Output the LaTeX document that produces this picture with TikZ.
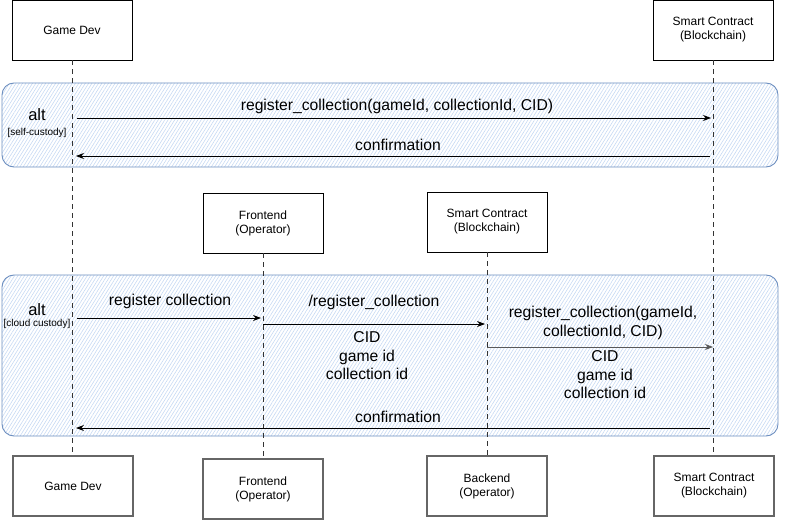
\documentclass[tikz,border=0pt]{standalone}
\usepackage{fontspec}
\setmainfont{Liberation Sans}
\usetikzlibrary{patterns.meta,arrows.meta}
\definecolor{frameblue}{HTML}{6C8EBF}
\definecolor{hatchblue}{HTML}{C6D9F3}
\begin{document}
\begin{tikzpicture}[x=1pt,y=-1pt,
  actor/.style={draw=black,line width=0.6pt,minimum width=120pt,minimum height=60pt,align=center,font=\fontsize{12}{14}\selectfont,inner sep=0pt},
  actorb/.style={actor,draw=black!60,line width=1.1pt},
  altframe/.style={draw=frameblue,line width=0.9pt,rounded corners=12pt,pattern={Lines[angle=58,distance=2.8pt,line width=0.6pt]},pattern color=hatchblue},
  life/.style={draw=black!80,dashed,dash pattern=on 5pt off 4pt,line width=0.6pt},
  msg/.style={draw=black,line width=0.8pt,-{Stealth[length=8pt,width=6pt]}},
  lbl/.style={font=\fontsize{15.7}{18.5}\selectfont,align=center,inner sep=0pt},
  altl/.style={font=\fontsize{16.5}{18}\selectfont,inner sep=0pt},
  guard/.style={font=\fontsize{10}{11}\selectfont,inner sep=0pt}
]
\useasboundingbox (0,0) rectangle (786,521);
% alt frames
\draw[altframe] (2,83) rectangle (778,167);
\draw[altframe] (2,275) rectangle (778,436);
% actors top
\node[actor] (gd) at (72,30) {Game Dev};
\node[actor] (sc) at (713,30) {Smart Contract\\(Blockchain)};
\node[actor] (fe) at (263,223) {Frontend\\(Operator)};
\node[actor] (sc2) at (487,222) {Smart Contract\\(Blockchain)};
% actors bottom
\node[actorb] (gdb) at (73,486) {Game Dev};
\node[actorb] (feb) at (263,489) {Frontend\\(Operator)};
\node[actorb] (beb) at (487,486) {Backend\\(Operator)};
\node[actorb] (scb) at (714,486) {Smart Contract\\(Blockchain)};
% lifelines
\draw[life] (gd.south) -- (gd.south |- gdb.north);
\draw[life] (sc.south) -- (sc.south |- scb.north);
\draw[life] (fe.south) -- (fe.south |- feb.north);
\draw[life] (sc2.south) -- (sc2.south |- beb.north);
% coordinates for messages
\coordinate (a1s) at (77,118); \coordinate (a1e) at (711,118);
\coordinate (a2s) at (710,156); \coordinate (a2e) at (76,156);
\coordinate (b1s) at (77,318); \coordinate (b1e) at (261,318);
\coordinate (b2s) at (263,324); \coordinate (b2e) at (485,324);
\coordinate (b3s) at (487,347); \coordinate (b3e) at (713,347);
\coordinate (b4s) at (710,428); \coordinate (b4e) at (76,428);
% frame labels
\node[altl] (alt1) at (37,115) {alt};
\node[guard] (g1) at (37,133) {[self-custody]};
\node[altl] (alt2) at (37,310) {alt};
\node[guard] (g2) at (37,324) {[cloud custody]};
% messages
\draw[msg] (a1s) -- (a1e);
\node[lbl] (l1) at (397,106) {register\_collection(gameId, collectionId, CID)};
\draw[msg] (a2s) -- (a2e);
\node[lbl] (l2) at (398,145) {confirmation};
\draw[msg] (b1s) -- (b1e);
\node[lbl] (l3) at (170,301) {register collection};
\draw[msg] (b2s) -- (b2e);
\node[lbl] (l4) at (374,302) {/register\_collection};
\node[lbl] (l5) at (367,356) {CID\\game id\\collection id};
\draw[msg,draw=black!65] (b3s) -- (b3e);
\node[lbl] (l6) at (603,323) {register\_collection(gameId,\\collectionId, CID)};
\node[lbl] (l7) at (605,375) {CID\\game id\\collection id};
\draw[msg] (b4s) -- (b4e);
\node[lbl] (l8) at (398,417) {confirmation};
\end{tikzpicture}
\end{document}
